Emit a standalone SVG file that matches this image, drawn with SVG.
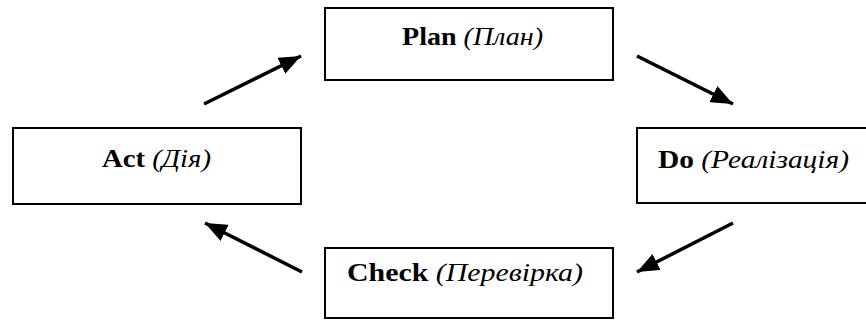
<svg xmlns="http://www.w3.org/2000/svg" width="866" height="320" viewBox="0 0 866 320">
<style>
.box{fill:#fff;stroke:#000;stroke-width:2}
.b{font-weight:bold}
.i{font-style:italic}
.c{stroke:#000;stroke-width:3.5;fill:none;marker-end:url(#ah)}
</style>
<defs>
<marker id="ah" markerUnits="userSpaceOnUse" markerWidth="24" markerHeight="18" refX="22" refY="9" orient="auto">
<path d="M0,0 L22,9 L0,18 Z" fill="#000"/>
</marker>
</defs>
<rect width="866" height="320" fill="#fff"/>
<g font-family="Liberation Serif, DejaVu Serif, serif" font-size="26" fill="#000">
<g id="plan"><rect class="box" x="325" y="8" width="288" height="72"/>
<text x="402" y="44.5" textLength="141" lengthAdjust="spacingAndGlyphs"><tspan class="b">Plan</tspan> <tspan class="i">(План)</tspan></text></g>
<g id="act"><rect class="box" x="13" y="128" width="288" height="76"/>
<text x="102" y="167" textLength="109" lengthAdjust="spacingAndGlyphs"><tspan class="b">Act</tspan> <tspan class="i">(Дія)</tspan></text></g>
<g id="do"><rect class="box" x="637" y="128" width="240" height="75"/>
<text x="658" y="168" textLength="191" lengthAdjust="spacingAndGlyphs"><tspan class="b">Do</tspan> <tspan class="i">(Реалізація)</tspan></text></g>
<g id="check"><rect class="box" x="325" y="248" width="288" height="70"/>
<text x="347" y="281" textLength="236" lengthAdjust="spacingAndGlyphs"><tspan class="b">Check</tspan> <tspan class="i">(Перевірка)</tspan></text></g>
</g>
<g id="connectors">
<line class="c" x1="204" y1="104" x2="301" y2="56"/>
<line class="c" x1="637" y1="56" x2="733" y2="104"/>
<line class="c" x1="733" y1="223" x2="637" y2="272"/>
<line class="c" x1="302" y1="272" x2="205" y2="223"/>
</g>
</svg>
